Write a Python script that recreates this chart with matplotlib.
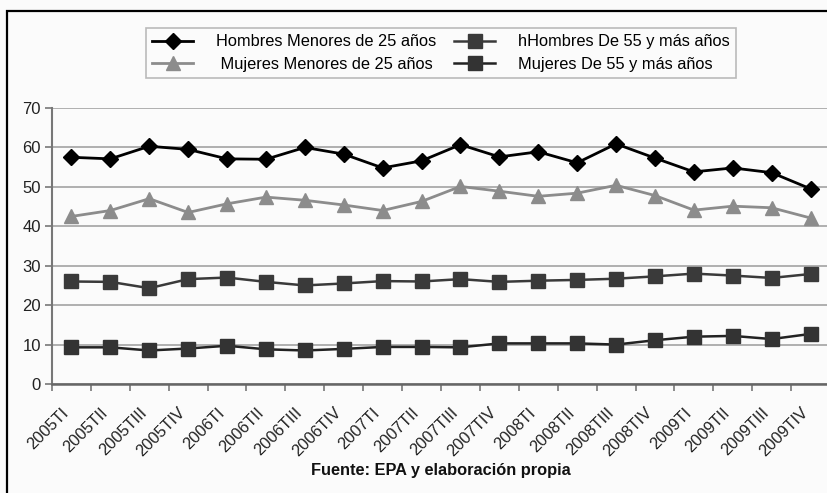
import matplotlib.pyplot as plt
import matplotlib.transforms as mtransforms
import numpy as np
from matplotlib.patches import Rectangle

plt.rcParams['font.family'] = ['Liberation Sans', 'DejaVu Sans']

trimestres = ["2005TI", "2005TII", "2005TIII", "2005TIV",
              "2006TI", "2006TII", "2006TIII", "2006TIV",
              "2007TI", "2007TII", "2007TIII", "2007TIV",
              "2008TI", "2008TII", "2008TIII", "2008TIV",
              "2009TI", "2009TII", "2009TIII", "2009TIV"]

hombres_menores_25 = [57.5, 57.1, 60.3, 59.5, 57.1, 57.0, 60.0, 58.3, 54.8, 56.6,
                      60.7, 57.6, 58.9, 56.1, 60.9, 57.3, 53.8, 54.8, 53.6, 49.5]
mujeres_menores_25 = [42.5, 44.0, 47.0, 43.5, 45.7, 47.4, 46.6, 45.4, 44.0, 46.3,
                      50.1, 48.9, 47.6, 48.4, 50.4, 47.8, 44.1, 45.1, 44.7, 42.1]
hombres_55_mas = [26.0, 25.9, 24.3, 26.6, 27.0, 25.9, 25.0, 25.5, 26.1, 26.0,
                  26.6, 25.9, 26.2, 26.4, 26.7, 27.3, 28.0, 27.5, 26.9, 27.9]
mujeres_55_mas = [9.3, 9.3, 8.5, 9.0, 9.7, 8.8, 8.5, 8.9, 9.4, 9.4,
                  9.3, 10.3, 10.3, 10.3, 10.0, 11.1, 12.0, 12.2, 11.4, 12.7]

W, H = 828, 493
fig = plt.figure(figsize=(W / 100, H / 100), dpi=100)
fig.patch.set_facecolor('#fbfbfb')

# marco exterior (cortado a la derecha y abajo)
fig.patches.append(Rectangle((7 / W, -0.01), 1.0, 1 - 11 / H + 0.01, transform=fig.transFigure,
                             fill=False, edgecolor='black', linewidth=1.6))

left, right, bottom, top = 52, 830, 384, 108
ax = fig.add_axes([left / W, 1 - bottom / H, (right - left) / W, (bottom - top) / H])
ax.set_facecolor('#fbfbfb')

x = np.arange(len(trimestres))
l1, = ax.plot(x, hombres_menores_25, color='black', lw=2, marker='D', ms=8.5,
              label='Hombres Menores de 25 años')
l2, = ax.plot(x, mujeres_menores_25, color='#8c8c8c', lw=2, marker='^', ms=10,
              label=' Mujeres Menores de 25 años')
l3, = ax.plot(x, hombres_55_mas, color='#3a3a3a', lw=1.8, marker='s', ms=10,
              markerfacecolor='#3a3a3a', markeredgecolor='#3a3a3a',
              label='hHombres De 55 y más años')
l4, = ax.plot(x, mujeres_55_mas, color='#222222', lw=1.8, marker='s', ms=10,
              markerfacecolor='#333333', markeredgecolor='#333333',
              label='Mujeres De 55 y más años')

ax.set_xlim(-0.5, len(trimestres) - 0.5)
ax.set_ylim(0, 70)
ax.set_yticks(range(0, 71, 10))
ax.yaxis.grid(True, color='#aaaaaa', lw=1.3)
ax.set_axisbelow(True)

ax.set_xticks(x)
ax.set_xticklabels(trimestres, rotation=45, ha='right', va='center',
                   rotation_mode='anchor', fontsize=11.8, color='#222222')
ax.tick_params(axis='x', length=0, pad=16)
# desplazar etiquetas un poco a la izquierda y abajo
offset = mtransforms.ScaledTranslation(-5 / 100, -4 / 100, fig.dpi_scale_trans)
for lab in ax.get_xticklabels():
    lab.set_transform(lab.get_transform() + offset)
ax.set_xticks(np.arange(-0.5, len(trimestres)), minor=True)
ax.tick_params(axis='x', which='minor', length=5, color='#777777', width=1.2)
ax.tick_params(axis='y', length=5, color='#777777', width=1.2, labelsize=12, pad=3,
               labelcolor='#222222')

for s in ['top', 'right']:
    ax.spines[s].set_visible(False)
ax.spines['left'].set_color('#777777')
ax.spines['left'].set_linewidth(1.5)
ax.spines['bottom'].set_color('#666666')
ax.spines['bottom'].set_linewidth(1.8)

leg = fig.legend(handles=[l1, l2, l3, l4], ncol=2, loc='center',
                 bbox_to_anchor=(441 / W, 1 - 53 / H), fontsize=11.8,
                 frameon=True, fancybox=False, edgecolor='#aaaaaa',
                 handlelength=2.5, columnspacing=1.1, handletextpad=1.4,
                 borderpad=0.4, labelspacing=0.45)
leg.get_frame().set_linewidth(1.2)
leg.get_frame().set_facecolor('#fbfbfb')

fig.text(441 / W, 1 - 471 / H, 'Fuente: EPA y elaboración propia', ha='center', va='center',
         fontsize=11.8, fontweight='bold', color='#111111')

fig.savefig('out.png', dpi=100, facecolor=fig.get_facecolor())
